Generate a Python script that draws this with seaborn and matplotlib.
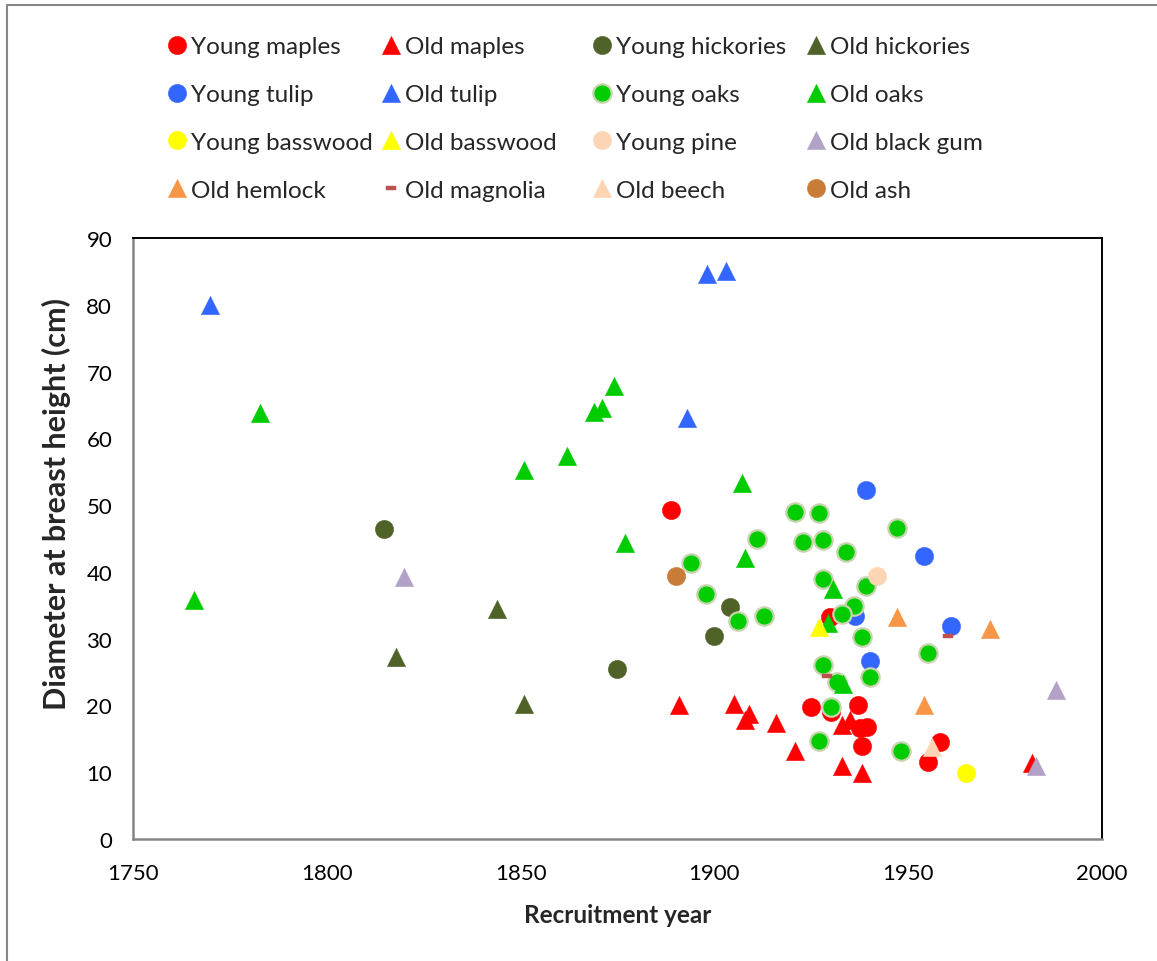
import matplotlib.pyplot as plt
import seaborn as sns
from matplotlib.lines import Line2D
from matplotlib.markers import MarkerStyle

sns.set_style('white')
plt.rcParams['font.family'] = ['Lato', 'DejaVu Sans']

# data: recruitment year and diameter (cm) per group
young_maples_year = [1888.9, 1929.8, 1925.0, 1930.1, 1937.0, 1937.6, 1939.3, 1938.1, 1958.2, 1955.0]
young_maples_dbh = [49.2, 33.2, 19.7, 19.0, 20.1, 16.6, 16.8, 13.9, 14.6, 11.6]
old_maples_year = [1890.9, 1905.0, 1909.0, 1908.0, 1916.0, 1920.9, 1933.0, 1935.0, 1933.0, 1938.1, 1981.9]
old_maples_dbh = [20.0, 20.25, 18.75, 17.75, 17.35, 13.2, 17.1, 17.75, 11.0, 9.9, 11.35]
young_hick_year = [1814.8, 1903.9, 1900.0, 1874.9]
young_hick_dbh = [46.45, 34.75, 30.4, 25.4]
old_hick_year = [1843.9, 1817.9, 1851.0]
old_hick_dbh = [34.4, 27.25, 20.2]
young_tulip_year = [1939.0, 1954.1, 1936.2, 1961.0, 1940.1]
young_tulip_dbh = [52.3, 42.45, 33.4, 31.95, 26.6]
old_tulip_year = [1769.9, 1898.0, 1902.9, 1892.9]
old_tulip_dbh = [80.0, 84.6, 85.1, 63.0]
young_oaks_year = [1893.9, 1910.9, 1897.9, 1906.0, 1912.9, 1920.9, 1927.0, 1922.9, 1927.9, 1934.0,
                   1947.0, 1927.9, 1939.1, 1936.0, 1932.9, 1938.0, 1955.0, 1927.9, 1940.1, 1931.7,
                   1930.1, 1927.0, 1948.1]
young_oaks_dbh = [41.3, 44.95, 36.75, 32.65, 33.45, 49.0, 48.75, 44.5, 44.85, 43.0,
                  46.5, 39.0, 37.9, 34.9, 33.75, 30.2, 27.85, 26.0, 24.25, 23.5,
                  19.8, 14.7, 13.25]
old_oaks_year = [1765.8, 1782.8, 1851.0, 1862.0, 1868.9, 1870.9, 1874.0, 1876.9, 1907.0, 1908.0,
                 1930.7, 1929.4, 1933.2]
old_oaks_dbh = [35.85, 63.8, 55.2, 57.4, 64.0, 64.5, 67.85, 44.4, 53.3, 42.1,
                37.5, 32.4, 23.25]
young_bass_year = [1964.9]
young_bass_dbh = [9.85]
old_bass_year = [1927.0]
old_bass_dbh = [31.75]
young_pine_year = [1942.0]
young_pine_dbh = [39.45]
old_gum_year = [1819.9, 1988.1, 1983.0]
old_gum_dbh = [39.3, 22.25, 10.9]
old_hemlock_year = [1947.0, 1971.1, 1954.1]
old_hemlock_dbh = [33.25, 31.4, 20.0]
old_magnolia_year = [1929.1, 1960.2]
old_magnolia_dbh = [24.4, 30.45]
old_beech_year = [1956.1]
old_beech_dbh = [13.75]
old_ash_year = [1890.0]
old_ash_dbh = [39.45]

rect = MarkerStyle([(-1, -0.42), (1, -0.42), (1, 0.42), (-1, 0.42), (-1, -0.42)])

series = [
    ('Young maples', young_maples_year, young_maples_dbh, '#ff0000', 'o'),
    ('Old maples', old_maples_year, old_maples_dbh, '#ff0000', '^'),
    ('Young hickories', young_hick_year, young_hick_dbh, '#4f6228', 'o'),
    ('Old hickories', old_hick_year, old_hick_dbh, '#4f6228', '^'),
    ('Young tulip', young_tulip_year, young_tulip_dbh, '#3366ff', 'o'),
    ('Old tulip', old_tulip_year, old_tulip_dbh, '#3366ff', '^'),
    ('Young oaks', young_oaks_year, young_oaks_dbh, '#00cc00', 'o'),
    ('Old oaks', old_oaks_year, old_oaks_dbh, '#00cc00', '^'),
    ('Young basswood', young_bass_year, young_bass_dbh, '#ffff00', 'o'),
    ('Old basswood', old_bass_year, old_bass_dbh, '#ffff00', '^'),
    ('Young pine', young_pine_year, young_pine_dbh, '#fcd5b5', 'o'),
    ('Old black gum', old_gum_year, old_gum_dbh, '#b3a2c7', '^'),
    ('Old hemlock', old_hemlock_year, old_hemlock_dbh, '#f79646', '^'),
    ('Old magnolia', old_magnolia_year, old_magnolia_dbh, '#c0504d', rect),
    ('Old beech', old_beech_year, old_beech_dbh, '#fcd5b5', '^'),
    ('Old ash', old_ash_year, old_ash_dbh, '#c97b38', 'o'),
]

W, H = 1157, 962
fig = plt.figure(figsize=(W / 100, H / 100), dpi=100)
ax = fig.add_axes([133 / W, 1 - 840 / H, 969 / W, 601 / H])

for name, xs, ys, col, mk in series:
    if name == 'Young oaks':
        ec, lw = '#c6d5ae', 1.6
    else:
        ec, lw = col, 0.3
    size = 62 if name == 'Old magnolia' else 175
    sns.scatterplot(x=xs, y=ys, ax=ax, color=col, marker=mk, s=size,
                    edgecolor=ec, linewidth=lw, label=name, zorder=3)

if ax.get_legend() is not None:
    ax.get_legend().remove()

ax.set_xlim(1750, 2000)
ax.set_ylim(0, 90)
ax.set_xticks(range(1750, 2001, 50))
ax.set_yticks(range(0, 91, 10))
ax.tick_params(axis='both', labelsize=16, colors='#868686', labelcolor='black',
               length=6, width=1.3, direction='out')
ax.tick_params(axis='x', pad=10, length=7)
ax.tick_params(axis='y', pad=9)
for side in ['top', 'right']:
    ax.spines[side].set_color('black')
    ax.spines[side].set_linewidth(1.4)
for side in ['left', 'bottom']:
    ax.spines[side].set_color('#868686')
    ax.spines[side].set_linewidth(1.8)
ax.grid(False)

ax.set_xlabel('Recruitment year', fontsize=17.5, fontweight='bold')
ax.set_ylabel('Diameter at breast height (cm)', fontsize=22, fontweight='bold')
ax.xaxis.set_label_coords(0.5, -0.106)
ax.yaxis.set_label_coords(-0.064, 0.559)

# legend: 4 fixed-width columns, filled row by row
handles, labels = ax.get_legend_handles_labels()
col_x = [165, 379, 590, 804]
for c in range(4):
    hs = [handles[r * 4 + c] for r in range(4)]
    ls = [labels[r * 4 + c] for r in range(4)]
    fig.legend(hs, ls, loc='upper left', bbox_to_anchor=(col_x[c] / W, 1 - 37 / H),
               frameon=False, fontsize=17.5, handlelength=1.0, handletextpad=0.08,
               labelspacing=1.11, borderpad=0, borderaxespad=0,
               scatterpoints=1, scatteryoffsets=[0.5])

# outer chart frame (left and top edges visible)
fig.add_artist(Line2D([7 / W, 7 / W, 1.0], [0.0, 1 - 5.5 / H, 1 - 5.5 / H],
                      transform=fig.transFigure, color='#868686', linewidth=1.5))

fig.savefig('out.png', dpi=100)
